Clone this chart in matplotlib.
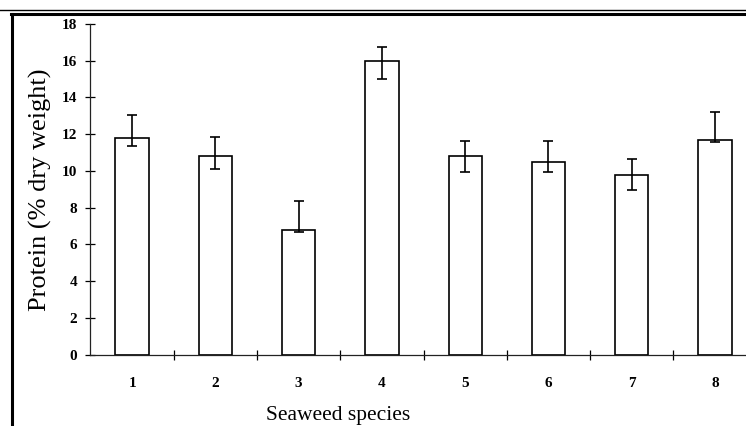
import matplotlib.pyplot as plt
from matplotlib.lines import Line2D
import numpy as np

# seaweed species and protein content (% dry weight)
species = ['1', '2', '3', '4', '5', '6', '7', '8']
protein = [11.8, 10.8, 6.8, 16.0, 10.8, 10.5, 9.8, 11.7]
err_low = [0.42, 0.68, 0.12, 0.98, 0.88, 0.58, 0.85, 0.15]
err_high = [1.27, 1.03, 1.55, 0.75, 0.83, 1.13, 0.85, 1.52]

fig = plt.figure(figsize=(7.46, 4.26), dpi=100)
ax = fig.add_axes([0.1213, 0.1678, 0.893, 0.7758])

x = np.arange(1, len(species) + 1)
ax.bar(x, protein, width=0.4, color='white', edgecolor='black', linewidth=1.2, zorder=2)
ax.errorbar(x, protein, yerr=[err_low, err_high], fmt='none', ecolor='black',
            elinewidth=1.2, capsize=3.5, capthick=1.2, zorder=3)

ax.set_xlim(0.5, 8.5)
ax.set_ylim(0, 18)
ax.set_yticks(range(0, 19, 2))
ax.set_xticks(x)
ax.set_xticklabels(species)
ax.set_xticks(np.arange(1.5, 8.5, 1), minor=True)

for side in ['top', 'right']:
    ax.spines[side].set_visible(False)
for side in ['left', 'bottom']:
    ax.spines[side].set_linewidth(0.9)
    ax.spines[side].set_color('#222222')

ax.tick_params(axis='y', direction='inout', length=7, width=0.9, pad=6)
ax.tick_params(axis='x', which='major', length=0, pad=16)
ax.tick_params(axis='x', which='minor', direction='inout', length=7, width=0.9)

for lab in ax.get_xticklabels() + ax.get_yticklabels():
    lab.set_fontfamily('Liberation Serif')
    lab.set_fontweight('bold')
    lab.set_fontsize(11)

ax.set_ylabel('Protein (% dry weight)', fontfamily='Liberation Serif', fontsize=19)
ax.yaxis.set_label_coords(-0.058, 0.5)
ax.set_xlabel('Seaweed species', fontfamily='Liberation Serif', fontsize=15.5)
ax.xaxis.set_label_coords(0.371, -0.155)

# frame lines of the original page
fig.add_artist(Line2D([0, 1], [1 - 10 / 426, 1 - 10 / 426], color='black', linewidth=1.0))
fig.add_artist(Line2D([11 / 746, 1], [1 - 14 / 426, 1 - 14 / 426], color='black', linewidth=2.2))
fig.add_artist(Line2D([12 / 746, 12 / 746], [0, 1 - 14 / 426], color='black', linewidth=2.2))

plt.savefig('out.png', dpi=100)
